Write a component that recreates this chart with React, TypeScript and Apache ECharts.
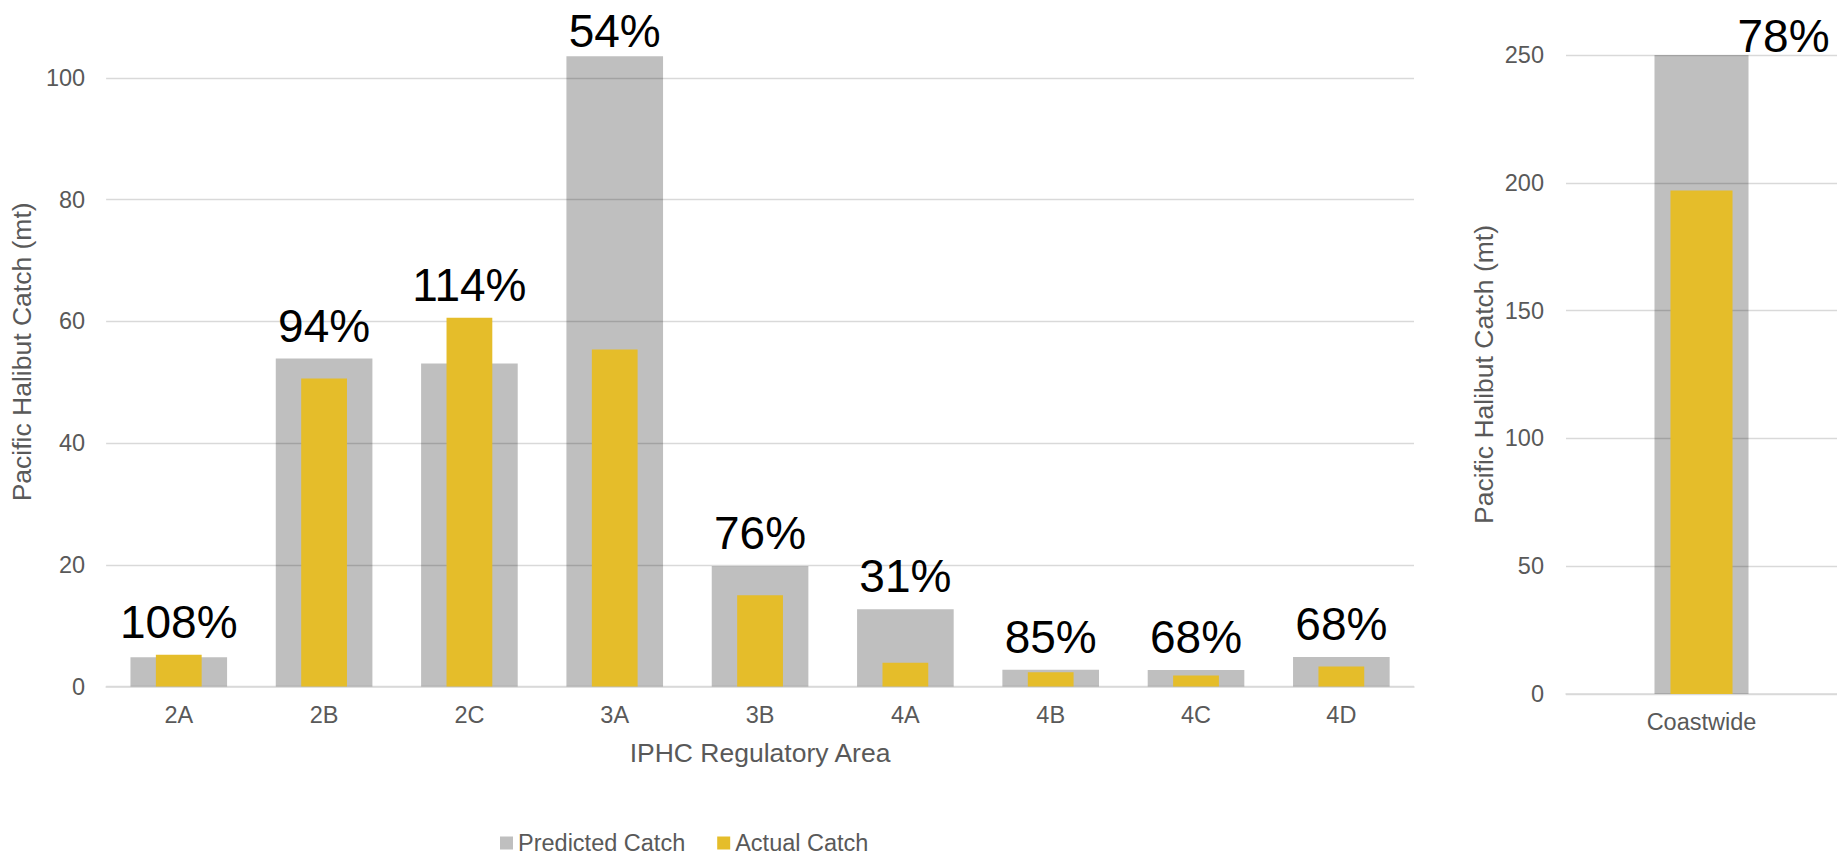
import React, { useEffect, useRef } from "react";
import * as echarts from "echarts";

const areas = ["2A", "2B", "2C", "3A", "3B", "4A", "4B", "4C", "4D"];
const predicted = [4.8, 53.9, 53.1, 103.6, 19.8, 12.7, 2.75, 2.7, 4.85];
const actual = [5.2, 50.6, 60.6, 55.4, 15.0, 3.9, 2.35, 1.8, 3.3];
const pctLabels = ["108%", "94%", "114%", "54%", "76%", "31%", "85%", "68%", "68%"];

const coastCategories = ["Coastwide"];
const coastPredicted = [250];
const coastActual = [197];
const coastPct = ["78%"];

const legendNames = ["Predicted Catch", "Actual Catch"];
const yTitle = "Pacific Halibut Catch (mt)";
const xTitle = "IPHC Regulatory Area";

const FONT = "Liberation Sans, Arial, sans-serif";
const GREY = "rgba(0,0,0,0.25)";
const GOLD = "#E5BD2A";
const TXT = "#595959";
const GRID = "#d9d9d9";
const LEFT_TOP_TICK = 100;

export default function App() {
  const ref = useRef<HTMLDivElement>(null);

  useEffect(() => {
    if (!ref.current) return;
    const chart = echarts.init(ref.current, null, { renderer: "svg" });

    const tickLabel = { fontSize: 23.5, color: TXT, fontFamily: FONT };
    const pctLabelStyle = {
      position: "top" as const,
      fontSize: 46,
      lineHeight: 46,
      color: "#000",
      fontFamily: FONT,
    };
    // keep labels of bars that reach past the top gridline inside the chart
    const labelDistance = (v: number) => (v > LEFT_TOP_TICK ? 2 : 10);

    const option = {
      animation: false,
      textStyle: { fontFamily: FONT },
      legend: {
        data: legendNames,
        left: 500,
        top: 831,
        padding: 0,
        itemWidth: 13,
        itemHeight: 13,
        itemGap: 32,
        icon: "rect",
        textStyle: { fontSize: 23.5, color: TXT, fontFamily: FONT },
      },
      grid: [
        { left: 106, right: 423, top: 17.2, bottom: 168.5 },
        { left: 1566, right: 0, top: 55, bottom: 161 },
      ],
      xAxis: [
        {
          type: "category",
          gridIndex: 0,
          data: areas,
          axisLine: { lineStyle: { color: GRID, width: 1.5 } },
          axisTick: { show: false },
          axisLabel: { ...tickLabel, margin: 16 },
          name: xTitle,
          nameLocation: "middle",
          nameGap: 53,
          nameTextStyle: { fontSize: 26.5, color: TXT, fontFamily: FONT },
        },
        { type: "category", gridIndex: 0, data: areas, show: false },
        {
          type: "category",
          gridIndex: 1,
          data: coastCategories,
          axisLine: { lineStyle: { color: GRID, width: 1.5 } },
          axisTick: { show: false },
          axisLabel: { ...tickLabel, margin: 16 },
        },
        { type: "category", gridIndex: 1, data: coastCategories, show: false },
      ],
      yAxis: [
        {
          type: "value",
          gridIndex: 0,
          min: 0,
          max: 110,
          interval: 20,
          axisLine: { show: false },
          axisTick: { show: false },
          axisLabel: { ...tickLabel, margin: 21, showMaxLabel: false },
          splitLine: { showMaxLine: false, lineStyle: { color: GRID, width: 1.3 } },
          name: yTitle,
          nameLocation: "middle",
          nameGap: 69,
          nameTextStyle: { fontSize: 26.5, color: TXT, fontFamily: FONT },
        },
        {
          type: "value",
          gridIndex: 1,
          min: 0,
          max: 250,
          interval: 50,
          axisLine: { show: false },
          axisTick: { show: false },
          axisLabel: { ...tickLabel, margin: 22 },
          splitLine: { lineStyle: { color: GRID, width: 1.3 } },
          name: yTitle,
          nameLocation: "middle",
          nameGap: 69,
          nameTextStyle: { fontSize: 26.5, color: TXT, fontFamily: FONT },
        },
      ],
      series: [
        {
          name: legendNames[0],
          type: "bar",
          xAxisIndex: 0,
          yAxisIndex: 0,
          barWidth: "66.5%",
          itemStyle: { color: GREY },
          label: { ...pctLabelStyle, distance: 10 },
          emphasis: { disabled: true },
          data: predicted.map((v, i) => ({
            value: v,
            label: {
              show: v >= actual[i],
              formatter: pctLabels[i],
              distance: labelDistance(v),
            },
          })),
        },
        {
          name: legendNames[1],
          type: "bar",
          xAxisIndex: 1,
          yAxisIndex: 0,
          barWidth: "31.5%",
          itemStyle: { color: GOLD },
          label: { ...pctLabelStyle, distance: 10 },
          emphasis: { disabled: true },
          data: actual.map((v, i) => ({
            value: v,
            label: {
              show: v > predicted[i],
              formatter: pctLabels[i],
              distance: labelDistance(v),
            },
          })),
        },
        {
          name: legendNames[0],
          type: "bar",
          xAxisIndex: 2,
          yAxisIndex: 1,
          barWidth: "34.7%",
          itemStyle: { color: GREY },
          emphasis: { disabled: true },
          label: { ...pctLabelStyle, distance: 0, offset: [82, 4] },
          data: coastPredicted.map((v, i) => ({
            value: v,
            label: { show: true, formatter: coastPct[i] },
          })),
        },
        {
          name: legendNames[1],
          type: "bar",
          xAxisIndex: 3,
          yAxisIndex: 1,
          barWidth: "22.9%",
          itemStyle: { color: GOLD },
          emphasis: { disabled: true },
          data: coastActual,
        },
      ],
    };

    chart.setOption(option as any);
    return () => chart.dispose();
  }, []);

  return (
    <div
      ref={ref}
      style={{ position: "absolute", left: 0, top: 0, width: 1837, height: 855 }}
    />
  );
}
